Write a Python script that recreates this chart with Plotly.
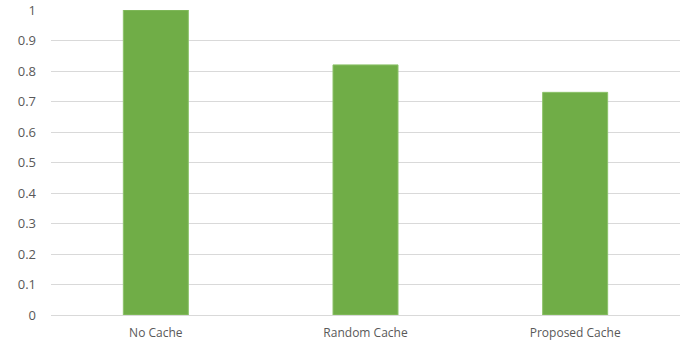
import plotly.graph_objects as go

categories = ["No Cache", "Random Cache", "Proposed Cache"]
values = [1.0, 0.82, 0.73]
tick_vals = [0, 0.1, 0.2, 0.3, 0.4, 0.5, 0.6, 0.7, 0.8, 0.9, 1.0]
tick_text = ["0", "0.1", "0.2", "0.3", "0.4", "0.5", "0.6", "0.7", "0.8", "0.9", "1"]

fig = go.Figure(go.Bar(
    x=categories, y=values,
    marker=dict(color="#70AD47", line=dict(color="#8cc26a", width=1)),
))
fig.update_layout(
    width=690, height=346,
    margin=dict(l=51, r=10, t=10, b=31, autoexpand=False),
    plot_bgcolor="white", paper_bgcolor="white",
    bargap=0.69,
    showlegend=False,
    font=dict(family="Open Sans", size=13, color="#595959"),
)
fig.update_yaxes(
    range=[0, 1], tickvals=tick_vals, ticktext=tick_text,
    showgrid=True, gridcolor="#d9d9d9", gridwidth=1,
    zeroline=False, showline=False, ticklabelstandoff=14,
    tickfont=dict(size=13), automargin=False,
)
fig.update_xaxes(
    showline=True, linecolor="#d9d9d9", linewidth=1,
    ticklabelstandoff=7, tickfont=dict(size=12), automargin=False,
)
fig.write_html("out.html")
